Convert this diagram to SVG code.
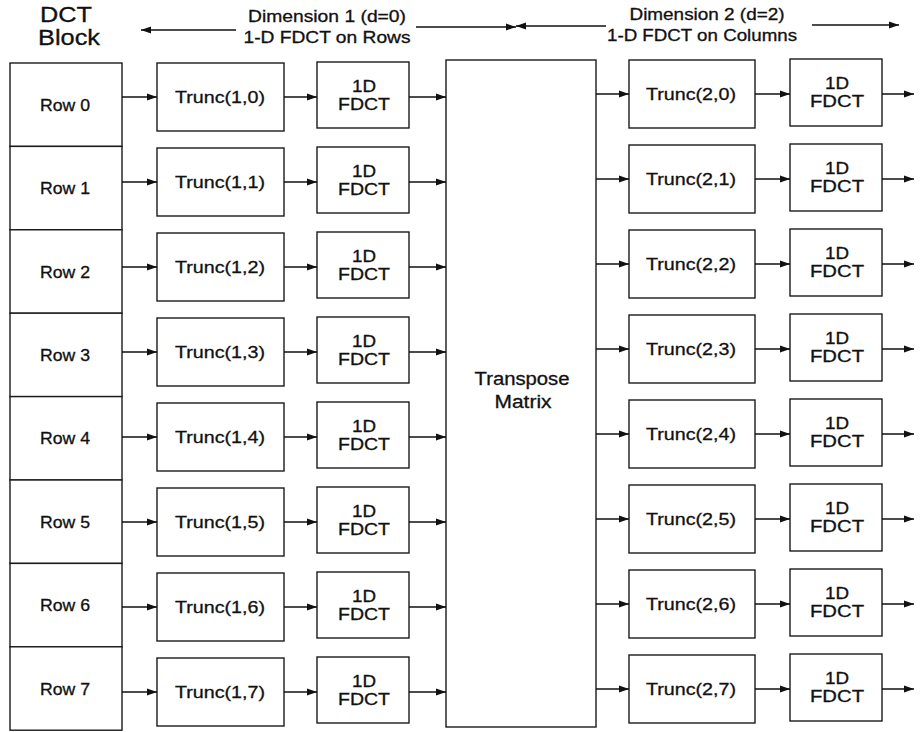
<svg xmlns="http://www.w3.org/2000/svg" width="920" height="732" viewBox="0 0 920 732">
<defs>
<marker id="ah" markerUnits="userSpaceOnUse" markerWidth="11" markerHeight="8" refX="10" refY="4" orient="auto">
<path d="M0,0.5 L10,4 L0,7.5 z" fill="#111"/>
</marker>
<style>
text{font-family:"Liberation Sans",Arial,sans-serif;fill:#111;stroke:#111;stroke-width:0.3;text-anchor:middle}
.box{fill:#fff;stroke:#1a1a1a;stroke-width:1.4}
.c{fill:none;stroke:#111;stroke-width:1.5;marker-end:url(#ah)}
.t17{font-size:17px}
.t16{font-size:16px}
.t22{font-size:22px}
.t18{font-size:18px}
</style>
</defs>
<rect width="920" height="732" fill="#fff"/>

<g id="header">
<text class="t22" x="66" y="22" textLength="52" lengthAdjust="spacingAndGlyphs">DCT</text>
<text class="t22" x="69" y="45" textLength="62" lengthAdjust="spacingAndGlyphs">Block</text>
<text class="t16" x="327" y="22" textLength="158" lengthAdjust="spacingAndGlyphs">Dimension 1 (d=0)</text>
<text class="t16" x="327" y="43" textLength="167" lengthAdjust="spacingAndGlyphs">1-D FDCT on Rows</text>
<text class="t16" x="707" y="20" textLength="155" lengthAdjust="spacingAndGlyphs">Dimension 2 (d=2)</text>
<text class="t16" x="702" y="41" textLength="190" lengthAdjust="spacingAndGlyphs">1-D FDCT on Columns</text>
</g>

<g id="dim-arrows">
<line class="c" x1="236" y1="30" x2="141" y2="30"/>
<line class="c" x1="416" y1="27" x2="516" y2="27"/>
<line class="c" x1="606" y1="26" x2="516" y2="26"/>
<line class="c" x1="812" y1="25" x2="899" y2="25"/>
</g>

<g id="row0"><rect class="box" x="10" y="63" width="112" height="83.4"/><text class="t16" x="65" y="110.7" textLength="50" lengthAdjust="spacingAndGlyphs">Row 0</text></g>
<g id="row1"><rect class="box" x="10" y="146.4" width="112" height="83.4"/><text class="t16" x="65" y="194.1" textLength="50" lengthAdjust="spacingAndGlyphs">Row 1</text></g>
<g id="row2"><rect class="box" x="10" y="229.8" width="112" height="83.4"/><text class="t16" x="65" y="277.5" textLength="50" lengthAdjust="spacingAndGlyphs">Row 2</text></g>
<g id="row3"><rect class="box" x="10" y="313.2" width="112" height="83.4"/><text class="t16" x="65" y="360.9" textLength="50" lengthAdjust="spacingAndGlyphs">Row 3</text></g>
<g id="row4"><rect class="box" x="10" y="396.6" width="112" height="83.4"/><text class="t16" x="65" y="444.3" textLength="50" lengthAdjust="spacingAndGlyphs">Row 4</text></g>
<g id="row5"><rect class="box" x="10" y="480" width="112" height="83.4"/><text class="t16" x="65" y="527.7" textLength="50" lengthAdjust="spacingAndGlyphs">Row 5</text></g>
<g id="row6"><rect class="box" x="10" y="563.4" width="112" height="83.4"/><text class="t16" x="65" y="611.1" textLength="50" lengthAdjust="spacingAndGlyphs">Row 6</text></g>
<g id="row7"><rect class="box" x="10" y="646.8" width="112" height="83.4"/><text class="t16" x="65" y="694.5" textLength="50" lengthAdjust="spacingAndGlyphs">Row 7</text></g>

<g id="trunc1-0"><rect class="box" x="157" y="63" width="127" height="68"/><text class="t17" x="220" y="103" textLength="90" lengthAdjust="spacingAndGlyphs">Trunc(1,0)</text></g>
<g id="trunc1-1"><rect class="box" x="157" y="148" width="127" height="68"/><text class="t17" x="220" y="188" textLength="90" lengthAdjust="spacingAndGlyphs">Trunc(1,1)</text></g>
<g id="trunc1-2"><rect class="box" x="157" y="233" width="127" height="68"/><text class="t17" x="220" y="273" textLength="90" lengthAdjust="spacingAndGlyphs">Trunc(1,2)</text></g>
<g id="trunc1-3"><rect class="box" x="157" y="318" width="127" height="68"/><text class="t17" x="220" y="358" textLength="90" lengthAdjust="spacingAndGlyphs">Trunc(1,3)</text></g>
<g id="trunc1-4"><rect class="box" x="157" y="403" width="127" height="68"/><text class="t17" x="220" y="443" textLength="90" lengthAdjust="spacingAndGlyphs">Trunc(1,4)</text></g>
<g id="trunc1-5"><rect class="box" x="157" y="488" width="127" height="68"/><text class="t17" x="220" y="528" textLength="90" lengthAdjust="spacingAndGlyphs">Trunc(1,5)</text></g>
<g id="trunc1-6"><rect class="box" x="157" y="573" width="127" height="68"/><text class="t17" x="220" y="613" textLength="90" lengthAdjust="spacingAndGlyphs">Trunc(1,6)</text></g>
<g id="trunc1-7"><rect class="box" x="157" y="658" width="127" height="68"/><text class="t17" x="220" y="698" textLength="90" lengthAdjust="spacingAndGlyphs">Trunc(1,7)</text></g>

<g id="fdct1-0"><rect class="box" x="317" y="62" width="92" height="66"/><text class="t16" x="364" y="92" textLength="24" lengthAdjust="spacingAndGlyphs">1D</text><text class="t16" x="364" y="110" textLength="52" lengthAdjust="spacingAndGlyphs">FDCT</text></g>
<g id="fdct1-1"><rect class="box" x="317" y="147" width="92" height="66"/><text class="t16" x="364" y="177" textLength="24" lengthAdjust="spacingAndGlyphs">1D</text><text class="t16" x="364" y="195" textLength="52" lengthAdjust="spacingAndGlyphs">FDCT</text></g>
<g id="fdct1-2"><rect class="box" x="317" y="232" width="92" height="66"/><text class="t16" x="364" y="262" textLength="24" lengthAdjust="spacingAndGlyphs">1D</text><text class="t16" x="364" y="280" textLength="52" lengthAdjust="spacingAndGlyphs">FDCT</text></g>
<g id="fdct1-3"><rect class="box" x="317" y="317" width="92" height="66"/><text class="t16" x="364" y="347" textLength="24" lengthAdjust="spacingAndGlyphs">1D</text><text class="t16" x="364" y="365" textLength="52" lengthAdjust="spacingAndGlyphs">FDCT</text></g>
<g id="fdct1-4"><rect class="box" x="317" y="402" width="92" height="66"/><text class="t16" x="364" y="432" textLength="24" lengthAdjust="spacingAndGlyphs">1D</text><text class="t16" x="364" y="450" textLength="52" lengthAdjust="spacingAndGlyphs">FDCT</text></g>
<g id="fdct1-5"><rect class="box" x="317" y="487" width="92" height="66"/><text class="t16" x="364" y="517" textLength="24" lengthAdjust="spacingAndGlyphs">1D</text><text class="t16" x="364" y="535" textLength="52" lengthAdjust="spacingAndGlyphs">FDCT</text></g>
<g id="fdct1-6"><rect class="box" x="317" y="572" width="92" height="66"/><text class="t16" x="364" y="602" textLength="24" lengthAdjust="spacingAndGlyphs">1D</text><text class="t16" x="364" y="620" textLength="52" lengthAdjust="spacingAndGlyphs">FDCT</text></g>
<g id="fdct1-7"><rect class="box" x="317" y="657" width="92" height="66"/><text class="t16" x="364" y="687" textLength="24" lengthAdjust="spacingAndGlyphs">1D</text><text class="t16" x="364" y="705" textLength="52" lengthAdjust="spacingAndGlyphs">FDCT</text></g>

<g id="transpose"><rect class="box" x="446" y="60" width="150" height="667"/><text class="t18" x="522" y="385" textLength="95" lengthAdjust="spacingAndGlyphs">Transpose</text><text class="t18" x="523" y="408" textLength="57" lengthAdjust="spacingAndGlyphs">Matrix</text></g>

<g id="trunc2-0"><rect class="box" x="629" y="60" width="126" height="68"/><text class="t17" x="691" y="100" textLength="90" lengthAdjust="spacingAndGlyphs">Trunc(2,0)</text></g>
<g id="trunc2-1"><rect class="box" x="629" y="145" width="126" height="68"/><text class="t17" x="691" y="185" textLength="90" lengthAdjust="spacingAndGlyphs">Trunc(2,1)</text></g>
<g id="trunc2-2"><rect class="box" x="629" y="230" width="126" height="68"/><text class="t17" x="691" y="270" textLength="90" lengthAdjust="spacingAndGlyphs">Trunc(2,2)</text></g>
<g id="trunc2-3"><rect class="box" x="629" y="315" width="126" height="68"/><text class="t17" x="691" y="355" textLength="90" lengthAdjust="spacingAndGlyphs">Trunc(2,3)</text></g>
<g id="trunc2-4"><rect class="box" x="629" y="400" width="126" height="68"/><text class="t17" x="691" y="440" textLength="90" lengthAdjust="spacingAndGlyphs">Trunc(2,4)</text></g>
<g id="trunc2-5"><rect class="box" x="629" y="485" width="126" height="68"/><text class="t17" x="691" y="525" textLength="90" lengthAdjust="spacingAndGlyphs">Trunc(2,5)</text></g>
<g id="trunc2-6"><rect class="box" x="629" y="570" width="126" height="68"/><text class="t17" x="691" y="610" textLength="90" lengthAdjust="spacingAndGlyphs">Trunc(2,6)</text></g>
<g id="trunc2-7"><rect class="box" x="629" y="655" width="126" height="68"/><text class="t17" x="691" y="695" textLength="90" lengthAdjust="spacingAndGlyphs">Trunc(2,7)</text></g>

<g id="fdct2-0"><rect class="box" x="790" y="59" width="92" height="67"/><text class="t16" x="837" y="89" textLength="24" lengthAdjust="spacingAndGlyphs">1D</text><text class="t16" x="837" y="107" textLength="54" lengthAdjust="spacingAndGlyphs">FDCT</text></g>
<g id="fdct2-1"><rect class="box" x="790" y="144" width="92" height="67"/><text class="t16" x="837" y="174" textLength="24" lengthAdjust="spacingAndGlyphs">1D</text><text class="t16" x="837" y="192" textLength="54" lengthAdjust="spacingAndGlyphs">FDCT</text></g>
<g id="fdct2-2"><rect class="box" x="790" y="229" width="92" height="67"/><text class="t16" x="837" y="259" textLength="24" lengthAdjust="spacingAndGlyphs">1D</text><text class="t16" x="837" y="277" textLength="54" lengthAdjust="spacingAndGlyphs">FDCT</text></g>
<g id="fdct2-3"><rect class="box" x="790" y="314" width="92" height="67"/><text class="t16" x="837" y="344" textLength="24" lengthAdjust="spacingAndGlyphs">1D</text><text class="t16" x="837" y="362" textLength="54" lengthAdjust="spacingAndGlyphs">FDCT</text></g>
<g id="fdct2-4"><rect class="box" x="790" y="399" width="92" height="67"/><text class="t16" x="837" y="429" textLength="24" lengthAdjust="spacingAndGlyphs">1D</text><text class="t16" x="837" y="447" textLength="54" lengthAdjust="spacingAndGlyphs">FDCT</text></g>
<g id="fdct2-5"><rect class="box" x="790" y="484" width="92" height="67"/><text class="t16" x="837" y="514" textLength="24" lengthAdjust="spacingAndGlyphs">1D</text><text class="t16" x="837" y="532" textLength="54" lengthAdjust="spacingAndGlyphs">FDCT</text></g>
<g id="fdct2-6"><rect class="box" x="790" y="569" width="92" height="67"/><text class="t16" x="837" y="599" textLength="24" lengthAdjust="spacingAndGlyphs">1D</text><text class="t16" x="837" y="617" textLength="54" lengthAdjust="spacingAndGlyphs">FDCT</text></g>
<g id="fdct2-7"><rect class="box" x="790" y="654" width="92" height="67"/><text class="t16" x="837" y="684" textLength="24" lengthAdjust="spacingAndGlyphs">1D</text><text class="t16" x="837" y="702" textLength="54" lengthAdjust="spacingAndGlyphs">FDCT</text></g>

<g id="connectors">
<line class="c" x1="122" y1="97" x2="157" y2="97"/><line class="c" x1="284" y1="97" x2="317" y2="97"/><line class="c" x1="409" y1="97" x2="446" y2="97"/>
<line class="c" x1="122" y1="182" x2="157" y2="182"/><line class="c" x1="284" y1="182" x2="317" y2="182"/><line class="c" x1="409" y1="182" x2="446" y2="182"/>
<line class="c" x1="122" y1="267" x2="157" y2="267"/><line class="c" x1="284" y1="267" x2="317" y2="267"/><line class="c" x1="409" y1="267" x2="446" y2="267"/>
<line class="c" x1="122" y1="352" x2="157" y2="352"/><line class="c" x1="284" y1="352" x2="317" y2="352"/><line class="c" x1="409" y1="352" x2="446" y2="352"/>
<line class="c" x1="122" y1="437" x2="157" y2="437"/><line class="c" x1="284" y1="437" x2="317" y2="437"/><line class="c" x1="409" y1="437" x2="446" y2="437"/>
<line class="c" x1="122" y1="522" x2="157" y2="522"/><line class="c" x1="284" y1="522" x2="317" y2="522"/><line class="c" x1="409" y1="522" x2="446" y2="522"/>
<line class="c" x1="122" y1="607" x2="157" y2="607"/><line class="c" x1="284" y1="607" x2="317" y2="607"/><line class="c" x1="409" y1="607" x2="446" y2="607"/>
<line class="c" x1="122" y1="692" x2="157" y2="692"/><line class="c" x1="284" y1="692" x2="317" y2="692"/><line class="c" x1="409" y1="692" x2="446" y2="692"/>
<line class="c" x1="596" y1="94" x2="629" y2="94"/><line class="c" x1="755" y1="94" x2="790" y2="94"/><line class="c" x1="882" y1="94" x2="914" y2="94"/>
<line class="c" x1="596" y1="179" x2="629" y2="179"/><line class="c" x1="755" y1="179" x2="790" y2="179"/><line class="c" x1="882" y1="179" x2="914" y2="179"/>
<line class="c" x1="596" y1="264" x2="629" y2="264"/><line class="c" x1="755" y1="264" x2="790" y2="264"/><line class="c" x1="882" y1="264" x2="914" y2="264"/>
<line class="c" x1="596" y1="349" x2="629" y2="349"/><line class="c" x1="755" y1="349" x2="790" y2="349"/><line class="c" x1="882" y1="349" x2="914" y2="349"/>
<line class="c" x1="596" y1="434" x2="629" y2="434"/><line class="c" x1="755" y1="434" x2="790" y2="434"/><line class="c" x1="882" y1="434" x2="914" y2="434"/>
<line class="c" x1="596" y1="519" x2="629" y2="519"/><line class="c" x1="755" y1="519" x2="790" y2="519"/><line class="c" x1="882" y1="519" x2="914" y2="519"/>
<line class="c" x1="596" y1="604" x2="629" y2="604"/><line class="c" x1="755" y1="604" x2="790" y2="604"/><line class="c" x1="882" y1="604" x2="914" y2="604"/>
<line class="c" x1="596" y1="689" x2="629" y2="689"/><line class="c" x1="755" y1="689" x2="790" y2="689"/><line class="c" x1="882" y1="689" x2="914" y2="689"/>
</g>
</svg>
